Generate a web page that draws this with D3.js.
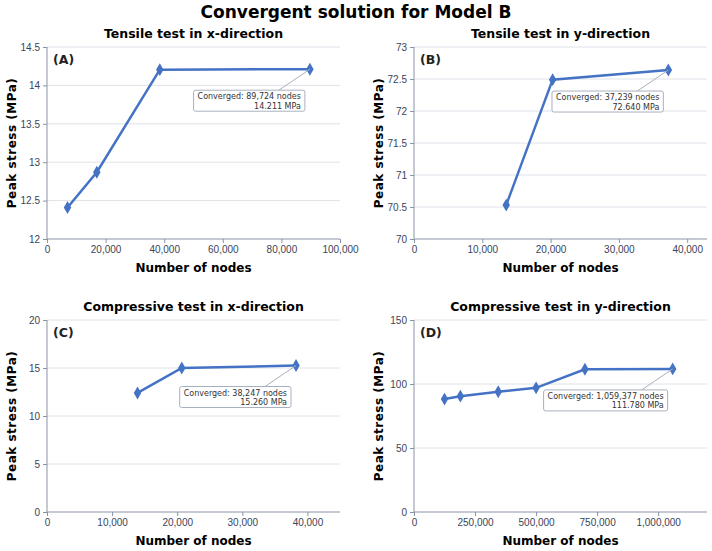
<!DOCTYPE html>
<html><head><meta charset="utf-8">
<script src="https://cdn.jsdelivr.net/npm/d3@7"></script>
<style>body{margin:0;background:#fff;font-family:"DejaVu Sans",sans-serif}</style>
</head><body><svg id="c" width="712" height="551"></svg>
<script>
// panel data
const nodesA = [7000, 17000, 38500, 89724];
const stressA = [12.41, 12.87, 14.205, 14.211];
const nodesB = [13500, 20300, 37239];
const stressB = [70.53, 72.49, 72.64];
const nodesC = [13900, 20700, 38247];
const stressC = [12.4, 15.0, 15.26];
const nodesD = [125000, 190000, 345000, 500000, 700000, 1059377];
const stressD = [88.2, 90.5, 94.0, 97.0, 111.5, 111.78];

const panels = [
  {tag: "(A)", title: "Tensile test in x-direction", xs: nodesA, ys: stressA,
   xDom: [0, 100000], xTicks: [0, 20000, 40000, 60000, 80000, 100000],
   yDom: [12, 14.5], yTicks: [12, 12.5, 13, 13.5, 14, 14.5],
   x0: 47, y0: 47, note: ["Converged: 89,724 nodes", "14.211 MPa"]},
  {tag: "(B)", title: "Tensile test in y-direction", xs: nodesB, ys: stressB,
   xDom: [0, 42900], xTicks: [0, 10000, 20000, 30000, 40000],
   yDom: [70, 73], yTicks: [70, 70.5, 71, 71.5, 72, 72.5, 73],
   x0: 414, y0: 47, note: ["Converged: 37,239 nodes", "72.640 MPa"]},
  {tag: "(C)", title: "Compressive test in x-direction", xs: nodesC, ys: stressC,
   xDom: [0, 45000], xTicks: [0, 10000, 20000, 30000, 40000],
   yDom: [0, 20], yTicks: [0, 5, 10, 15, 20],
   x0: 47, y0: 320, note: ["Converged: 38,247 nodes", "15.260 MPa"]},
  {tag: "(D)", title: "Compressive test in y-direction", xs: nodesD, ys: stressD,
   xDom: [0, 1200000], xTicks: [0, 250000, 500000, 750000, 1000000],
   yDom: [0, 150], yTicks: [0, 50, 100, 150],
   x0: 414, y0: 320, note: ["Converged: 1,059,377 nodes", "111.780 MPa"]},
];
const W = 293, H = 192, blue = "#4472c4", axisCol = "#8a93a6", txt = "#3a4459";
const svg = d3.select("#c");
const fmt = d3.format(",");

svg.append("text").attr("x", 356).attr("y", 18).attr("text-anchor", "middle")
  .attr("font-size", 17).attr("font-weight", "bold").text("Convergent solution for Model B");

panels.forEach(p => {
  const g = svg.append("g").attr("transform", `translate(${p.x0},${p.y0})`);
  const x = d3.scaleLinear().domain(p.xDom).range([0, W]);
  const y = d3.scaleLinear().domain(p.yDom).range([H, 0]);

  g.selectAll(".grid").data(p.yTicks.slice(1)).join("line")
    .attr("x1", 0).attr("x2", W).attr("y1", d => y(d)).attr("y2", d => y(d))
    .attr("stroke", "#dfe2e8");

  const xa = g.append("g").attr("transform", `translate(0,${H})`)
    .call(d3.axisBottom(x).tickValues(p.xTicks).tickFormat(fmt).tickSize(4));
  const ya = g.append("g").call(d3.axisLeft(y).tickValues(p.yTicks).tickFormat(d3.format("~g")).tickSize(4));
  [xa, ya].forEach(a => {
    a.selectAll("path,line").attr("stroke", axisCol);
    a.selectAll("text").attr("fill", txt).attr("font-size", 10);
  });
  ya.select(".domain").attr("d", `M0,${H}V0`);
  xa.select(".domain").attr("d", `M0,0H${W}`);

  g.append("text").attr("x", W / 2).attr("y", -9).attr("text-anchor", "middle")
    .attr("font-size", 12.5).attr("font-weight", "bold").text(p.title);
  g.append("text").attr("x", W / 2).attr("y", H + 33).attr("text-anchor", "middle")
    .attr("font-size", 12).attr("font-weight", "bold").text("Number of nodes");
  g.append("text").attr("transform", `translate(-31,${H / 2}) rotate(-90)`).attr("text-anchor", "middle")
    .attr("font-size", 12).attr("font-weight", "bold").attr("letter-spacing", 0.5).text("Peak stress (MPa)");
  g.append("text").attr("x", 6).attr("y", 17).attr("font-size", 12.5).attr("font-weight", "bold")
    .attr("fill", "#222").text(p.tag);

  const pts = p.xs.map((v, i) => [x(v), y(p.ys[i])]);
  g.append("path").attr("d", d3.line()(pts)).attr("fill", "none").attr("stroke", blue).attr("stroke-width", 2.5);
  g.selectAll(".pt").data(pts).join("path")
    .attr("transform", d => `translate(${d[0]},${d[1]})`)
    .attr("d", d3.symbol(d3.symbolDiamond, 48)()).attr("fill", blue);

  // annotation for the converged point, box sized from its text
  const last = pts[pts.length - 1];
  const right = last[0] - 5, top = last[1] + 21;
  const ann = g.append("g");
  const line = ann.append("line").attr("stroke", "#a9b0bd");
  const rect = ann.append("rect").attr("rx", 2).attr("fill", "#fff").attr("stroke", "#a9b0bd");
  const texts = p.note.map((t, i) => ann.append("text").attr("x", right - 4).attr("y", top + 9 + i * 9.5)
    .attr("text-anchor", "end").attr("font-size", 8).attr("fill", "#333").text(t));
  const bw = d3.max(texts, t => t.node().getComputedTextLength()) + 8;
  rect.attr("x", right - bw).attr("y", top).attr("width", bw).attr("height", 21);
  line.attr("x1", right - 26).attr("y1", top).attr("x2", last[0]).attr("y2", last[1]);
});
</script></body></html>
